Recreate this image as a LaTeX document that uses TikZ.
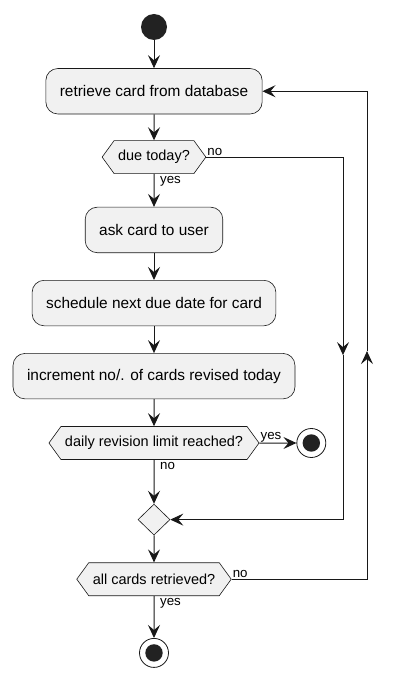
\documentclass[tikz,border=0pt]{standalone}
\usepackage{fontspec}
\setmainfont{Liberation Sans}
\usepackage{tikz}
\usetikzlibrary{arrows.meta,positioning,calc,shapes.geometric,shapes.symbols}
\definecolor{umledge}{HTML}{181818}
\definecolor{umlfill}{HTML}{F1F1F1}
\definecolor{umldot}{HTML}{222222}
\tikzset{
  umlbox/.style={
    draw=umledge, line width=0.6pt, fill=umlfill, rounded corners=12pt,
    align=center, inner xsep=14pt, minimum height=45.5pt,
    font=\fontsize{15.4}{18}\selectfont
  },
  ask/.style={
    draw=umledge, line width=0.6pt, fill=umlfill, shape=signal,
    signal to=west and east, signal pointer angle=108,
    inner xsep=4pt, inner ysep=2pt, minimum height=33pt,
    font=\fontsize{14.5}{17}\selectfont
  },
  merge/.style={
    draw=umledge, line width=0.6pt, fill=umlfill, diamond,
    inner sep=0pt, minimum width=32pt, minimum height=31pt
  },
  startdot/.style={circle, fill=umldot, minimum size=26pt, inner sep=0pt},
  stopdot/.style={
    circle, draw=umledge, line width=0.8pt, fill=white,
    minimum size=29pt, inner sep=0pt,
    path picture={\fill[umldot] (path picture bounding box.center) circle (8.7pt);}
  },
  arr/.style={-{Stealth[length=13pt,width=12pt,inset=5pt]}, draw=umledge, line width=1pt},
  lbl/.style={font=\fontsize{13.3}{15}\selectfont, inner sep=1pt}
}
\begin{document}
\begin{tikzpicture}[node distance=27pt]
  \node[startdot] (start) {};
  \useasboundingbox ($(start.center)+(-154pt,27pt)$) rectangle +(400pt,-676pt);
  \node[umlbox, below=28pt of start] (fetch) {retrieve card from database};
  \node[ask, below=26pt of fetch] (due) {due today?};
  \node[umlbox, below=33pt of due] (show) {ask card to user};
  \node[umlbox, below=of show] (sched) {schedule next due date for card};
  \node[umlbox, below=of sched] (incr) {increment no/. of cards revised today};
  \node[ask, below=of incr] (limit) {daily revision limit reached?};
  \node[stopdot, right=37pt of limit] (halt) {};
  \node[merge, below=44pt of limit] (join) {};
  \node[ask, below=of join] (done) {all cards retrieved?};
  \node[stopdot, below=42pt of done] (stop) {};
  % right hand side: skip line and loop back
  \coordinate (skipx) at ($(start.center)+(189pt,0)$);
  \coordinate (loopx) at ($(start.center)+(213pt,0)$);
  \coordinate (skipmid) at ($(incr.north -| skipx)+(0,-2pt)$);
  \coordinate (loopmid) at ($(incr.north -| loopx)+(0,2pt)$);
  \draw[arr] (start) -- (fetch);
  \draw[arr] (fetch) -- (due);
  \draw[arr] (due) -- (show);
  \draw[arr] (show) -- (sched);
  \draw[arr] (sched) -- (incr);
  \draw[arr] (incr) -- (limit);
  \draw[arr] (limit) -- (halt);
  \draw[arr] (limit) -- (join);
  \draw[arr] (join) -- (done);
  \draw[arr] (done) -- (stop);
  \draw[arr] (due.east) -| (skipmid);
  \draw[arr] (skipmid) |- (join.east);
  \draw[arr] (done.east) -| (loopmid);
  \draw[arr] (loopmid) |- (fetch.east);
  \node[lbl, anchor=south west] (dueno) at (due.east) {no};
  \node[lbl, anchor=north west] (dueyes) at ($(due.south)+(5pt,-1pt)$) {yes};
  \node[lbl, anchor=south west] (limityes) at (limit.east) {yes};
  \node[lbl, anchor=north west] (limitno) at ($(limit.south)+(5pt,-1pt)$) {no};
  \node[lbl, anchor=south west] (doneno) at (done.east) {no};
  \node[lbl, anchor=north west] (doneyes) at ($(done.south)+(5pt,-1pt)$) {yes};
\end{tikzpicture}
\end{document}
